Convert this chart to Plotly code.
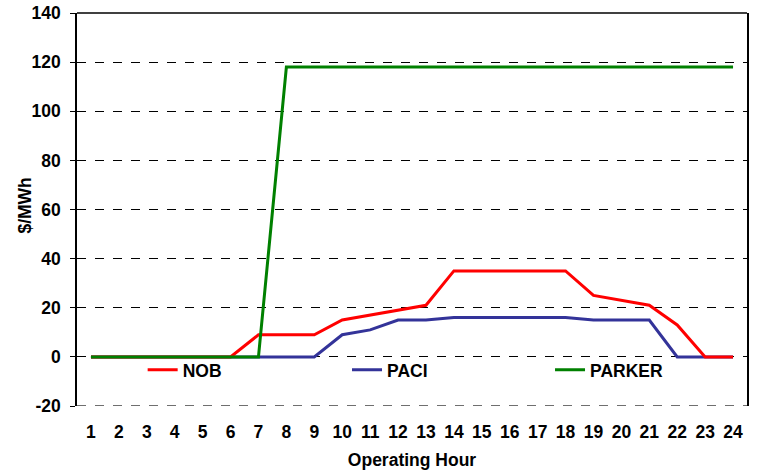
import plotly.graph_objects as go

hours = list(range(1, 25))
hour_labels = [str(h) for h in hours]
nob = [0, 0, 0, 0, 0, 0, 9, 9, 9, 15, 17, 19, 21, 35, 35, 35, 35, 35, 25, 23, 21, 13, 0, 0]
paci = [0, 0, 0, 0, 0, 0, 0, 0, 0, 9, 11, 15, 15, 16, 16, 16, 16, 16, 15, 15, 15, 0, 0, 0]
parker = [0, 0, 0, 0, 0, 0, 0, 118, 118, 118, 118, 118, 118, 118, 118, 118, 118, 118, 118, 118, 118, 118, 118, 118]
y_ticks = list(range(-20, 141, 20))
y_labels = [str(v) for v in y_ticks]

FONT = "Liberation Sans, Arial, sans-serif"
FS = 17.5

fig = go.Figure()
fig.add_trace(go.Scatter(x=hours, y=paci, name="PACI", mode="lines",
                         line=dict(color="#333399", width=3), legend="legend2"))
fig.add_trace(go.Scatter(x=hours, y=nob, name="NOB", mode="lines",
                         line=dict(color="#FF0000", width=3), legend="legend"))
fig.add_trace(go.Scatter(x=hours, y=parker, name="PARKER", mode="lines",
                         line=dict(color="#008000", width=3), legend="legend3"))

def leg(x):
    return dict(orientation="h", x=x, y=0.092, xanchor="left", yanchor="middle",
                bgcolor="rgba(0,0,0,0)", borderwidth=0,
                font=dict(family=FONT, size=FS, color="black", weight="bold"))

fig.update_layout(
    width=757, height=473,
    margin=dict(l=77, r=10, t=13, b=67),
    paper_bgcolor="white", plot_bgcolor="white",
    font=dict(family=FONT, size=FS, color="black"),
    showlegend=True,
    legend=leg(0.098),
    legend2=leg(0.403),
    legend3=leg(0.706),
    xaxis=dict(range=[0.5, 24.5], tickmode="array", tickvals=hours, ticktext=hour_labels,
               showgrid=False, zeroline=False, showline=False, ticks="",
               ticklabelstandoff=13, automargin=False,
               tickfont=dict(family=FONT, size=FS, weight="bold"),
               title=dict(text="<b>Operating Hour</b>", font=dict(family=FONT, size=FS), standoff=13)),
    xaxis2=dict(range=[0.5, 24.5], overlaying="x", anchor="free", position=0.125,
                tickmode="array", tickvals=[h + 0.5 for h in hours[:-1]],
                showticklabels=False, ticks="outside", ticklen=5, tickcolor="#808080", tickwidth=1.5,
                showline=True, linecolor="#808080", linewidth=2, showgrid=False, zeroline=False,
                layer="below traces", automargin=False),
    yaxis=dict(range=[-20, 140], tickmode="array", tickvals=y_ticks, ticktext=y_labels,
               showgrid=True, gridcolor="black", griddash="dash", gridwidth=1,
               zeroline=False, showline=True, linecolor="black", linewidth=1.5, mirror=True,
               ticks="outside", ticklen=5, tickcolor="black",
               ticklabelstandoff=6, automargin=False, ticklabeloverflow="allow",
               tickfont=dict(family=FONT, size=FS, weight="bold")),
    annotations=[dict(text="<b>$/MWh</b>", textangle=-90, xref="paper", yref="paper",
                      x=-0.0776, y=0.51, xanchor="center", yanchor="middle", showarrow=False,
                      font=dict(family=FONT, size=FS, color="black"))],
    shapes=[
        dict(type="line", xref="paper", yref="paper", x0=0, x1=1, y0=1, y1=1,
             line=dict(color="black", width=1.5)),
        dict(type="line", xref="paper", yref="y", x0=0, x1=1, y0=-20, y1=-20,
             line=dict(color="#404040", width=1.5, dash="dash")),
    ],
)

# remove the browser's default 8px body margin so the figure fills the window
fig.write_html("out.html", config={"displayModeBar": False},
               post_script="document.body.style.margin='0';")
